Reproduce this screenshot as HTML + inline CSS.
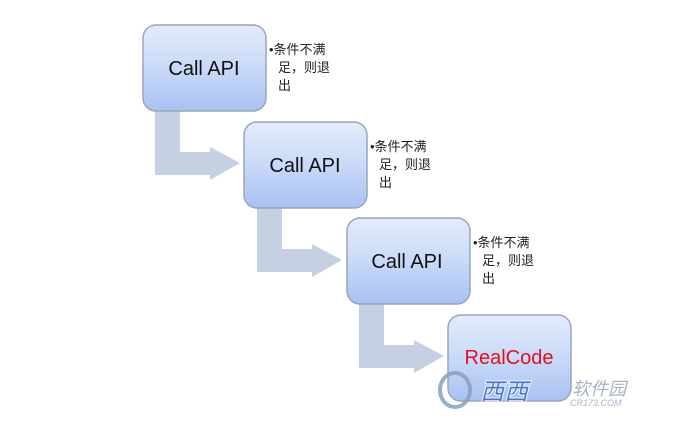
<!DOCTYPE html>
<html><head><meta charset="utf-8"><style>
body{margin:0;background:#fff;width:693px;height:425px;overflow:hidden}
</style></head><body>
<svg width="693" height="425" xmlns="http://www.w3.org/2000/svg" style="font-family:'Liberation Sans','Noto Sans CJK SC',sans-serif">
<defs>
<linearGradient id="g" x1="0" y1="0" x2="0" y2="1">
<stop offset="0" stop-color="#e4ecfb"/><stop offset="0.5" stop-color="#c9d9f8"/><stop offset="1" stop-color="#a9c2f2"/>
</linearGradient>
<g id="arr">
<path d="M155 110 H180 V152 H210 V147 L240 163 L210 180 V175 H155 Z" fill="#c5d0e2"/>
</g>
<g id="box">
<rect x="143" y="25" width="123" height="86" rx="13" fill="url(#g)" stroke="#9aa6ba" stroke-width="1.5"/>
</g>
<g id="note" font-size="13" fill="#222">
<text x="269" y="54">•条件不满</text>
<text x="278" y="72">足，则退</text>
<text x="278" y="90">出</text>
</g>
</defs>
<use href="#arr"/>
<use href="#arr" transform="translate(102,97)"/>
<use href="#arr" transform="translate(204,193)"/>
<use href="#box"/>
<use href="#box" transform="translate(101,97)"/>
<use href="#box" transform="translate(204,193)"/>
<use href="#box" transform="translate(305,290)"/>
<g font-size="20" fill="#111" text-anchor="middle">
<text x="204" y="75">Call API</text>
<text x="305" y="172">Call API</text>
<text x="407" y="268">Call API</text>
<text x="509" y="364" fill="#e01020">RealCode</text>
</g>
<use href="#note"/>
<use href="#note" transform="translate(101,97)"/>
<use href="#note" transform="translate(204,193)"/>
<g opacity="0.85">
<ellipse cx="455" cy="390" rx="15" ry="17" fill="none" stroke="#8aa0c0" stroke-width="4"/>
<text x="480" y="400" font-size="24" font-style="italic" font-weight="bold" fill="#3a66c8" stroke="#fff" stroke-width="1">西西</text>
<text x="572" y="395" font-size="18" font-style="italic" fill="#9aa8bc">软件园</text>
<text x="570" y="406" font-size="9" font-style="italic" fill="#9aa8bc">CR173.COM</text>
</g>
</svg>
</body></html>
